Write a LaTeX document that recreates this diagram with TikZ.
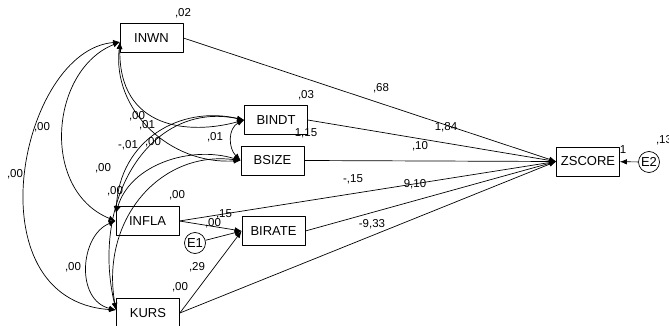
\documentclass[tikz,border=0pt]{standalone}
\usepackage{fontspec}
\setmainfont{Liberation Sans}
\usetikzlibrary{arrows.meta}
\begin{document}
\begin{tikzpicture}[x=1pt, y=-1pt, line join=round, line width=0.7pt,
	var/.style={draw, minimum width=63pt, minimum height=29pt, inner sep=0pt, font=\fontsize{13}{15}\selectfont},
	err/.style={draw, circle, minimum size=21pt, inner sep=0pt, font=\fontsize{13}{15}\selectfont},
	eff/.style={-{Latex[length=7pt,width=5.5pt]}},
	cov/.style={{Latex[length=7pt,width=5.5pt]}-{Latex[length=7pt,width=5.5pt]}},
	num/.style={font=\fontsize{11.5}{12}\selectfont, inner sep=0pt}]
	\useasboundingbox (0,0) rectangle (669,326);
	% observed variables
	\foreach \n/\x/\y in {INWN/151.5/38, BINDT/276/120, BSIZE/272.5/160.5, INFLA/147.5/221,
		BIRATE/273.5/231, KURS/148/313, ZSCORE/588/161.5}
	\node[var] (\n) at (\x,\y) {\n};
	\node[err] (E1) at (195,243) {E1};
	\node[err] (E2) at (649,162) {E2};
	\path (120,42) coordinate (iw)
	(116,213) coordinate (ft)
	(INFLA.west) coordinate (fl)
	(116,310) coordinate (kl);
	% covariances
	\draw[cov] (iw) .. controls (20,50) and (-30,300) .. (kl);
	\draw[cov] (iw) .. controls (50,70) and (40,190) .. (fl);
	\draw[cov] (fl) .. controls (80,235) and (75,300) .. (kl);
	\draw[cov] (iw) .. controls (118,130) and (190,135) .. (BINDT.west);
	\draw[cov] (iw) .. controls (112,110) and (170,165) .. (BSIZE.west);
	\draw[cov] (ft) .. controls (120,140) and (180,105) .. (BINDT.west);
	\draw[cov] (ft) .. controls (130,165) and (190,145) .. (BSIZE.west);
	\draw[cov] (kl) .. controls (90,200) and (150,100) .. (BINDT.west);
	\draw[cov] (kl) .. controls (100,220) and (160,150) .. (BSIZE.west);
	\draw[cov] (BINDT.west) .. controls (228,128) and (228,148) .. (BSIZE.west);
	% effects
	\foreach \s in {INWN,BINDT,BSIZE,INFLA,BIRATE,KURS}
	\draw[eff] (\s.east) -- (ZSCORE.west);
	\draw[eff] (INFLA.east) -- (BIRATE.west);
	\draw[eff] (KURS.east) -- (BIRATE.west);
	\draw[eff] (E1) -- (BIRATE.west);
	\draw[eff] (E2) -- (ZSCORE);
	% estimates
	\path (183,13) node[num] {,02}
	(306,95) node[num] {,03}
	(381,88) node[num] {,68}
	(446,127) node[num] {1,84}
	(420,146) node[num] {,10}
	(306,133) node[num] {1,15}
	(353,179) node[num] {-,15}
	(415,184) node[num] {9,10}
	(372,224) node[num] {-9,33}
	(623,150) node[num] {1}
	(664,140) node[num] {,13}
	(177,195) node[num] {,00}
	(180,287) node[num] {,00}
	(197,267) node[num] {,29}
	(224,214) node[num] {,15}
	(213,223) node[num] {,00}
	(15,174) node[num] {,00}
	(42,127) node[num] {,00}
	(103,168) node[num] {,00}
	(115,191) node[num] {,00}
	(73,267) node[num] {,00}
	(137,116) node[num] {,00}
	(147,125) node[num] {,01}
	(128,145) node[num] {-,01}
	(153,142) node[num] {,00}
	(215,137) node[num] {,01};
\end{tikzpicture}
\end{document}
